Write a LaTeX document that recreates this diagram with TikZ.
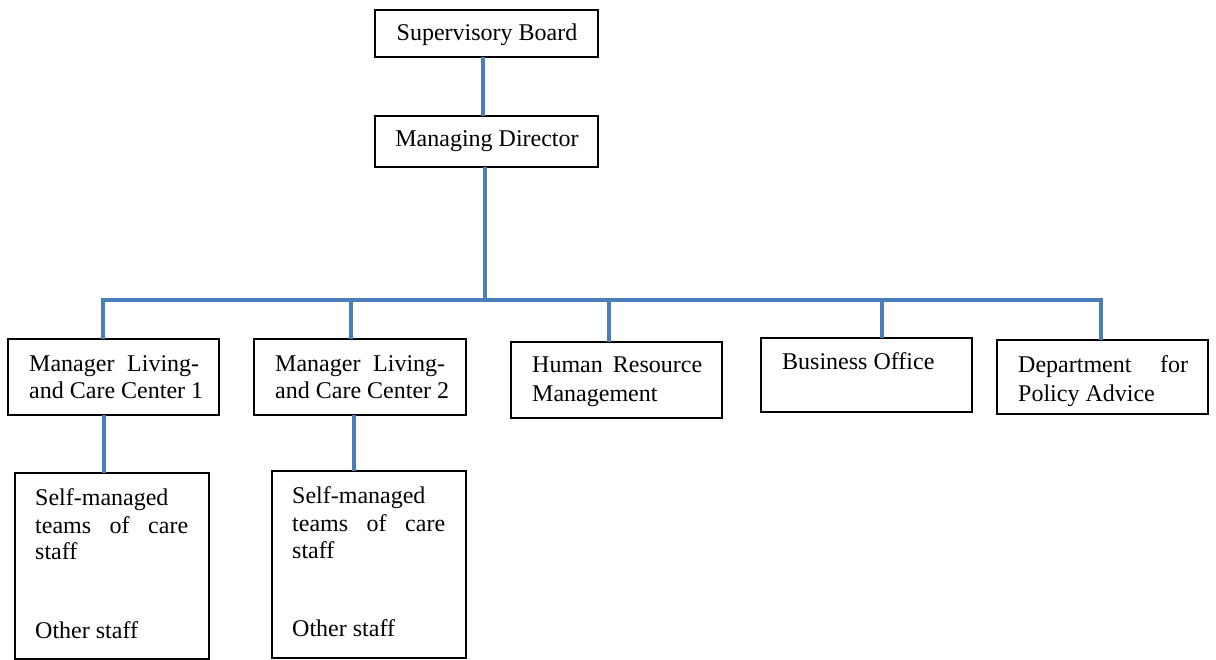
\documentclass[tikz,border=0pt]{standalone}
\usepackage{fontspec}
\setmainfont{Liberation Serif}
\definecolor{linkblue}{HTML}{4A7EBB}
\tikzset{
  box/.style={draw=black, line width=1.8pt, inner sep=0pt, outer sep=0pt, anchor=north west},
  conn/.style={draw=linkblue, line width=3.6pt},
  txt/.style={inner sep=0pt, anchor=base west, font=\fontsize{24}{27.6}\selectfont},
  ctxt/.style={inner sep=0pt, anchor=center, font=\fontsize{24}{27.6}\selectfont}
}
\begin{document}
\begin{tikzpicture}[x=1pt,y=-1pt]
\useasboundingbox (0,0) rectangle (1216,660);
% boxes
\node[box, minimum width=223pt, minimum height=47pt] (sb) at (375,10) {};
\node[box, minimum width=223pt, minimum height=51pt] (md) at (375,116) {};
\node[box, minimum width=211pt, minimum height=76pt] (m1) at (8,339) {};
\node[box, minimum width=212pt, minimum height=76pt] (m2) at (254,339) {};
\node[box, minimum width=211pt, minimum height=76pt] (hr) at (511,342) {};
\node[box, minimum width=211pt, minimum height=74pt] (bo) at (761,338) {};
\node[box, minimum width=211pt, minimum height=74pt] (dp) at (997,340) {};
\node[box, minimum width=194pt, minimum height=186pt] (s1) at (15,473) {};
\node[box, minimum width=194pt, minimum height=187pt] (s2) at (272,471) {};
% texts
\node[ctxt] (tsb) at (487,35) {Supervisory Board};
\node[ctxt] (tmd) at (487,141) {Managing Director};
\node[txt] (tm1a) at (29,372) {\makebox[170pt][s]{Manager Living-}};
\node[txt] (tm1b) at (29,399) {and Care Center 1};
\node[txt] (tm2a) at (275,372) {\makebox[170pt][s]{Manager Living-}};
\node[txt] (tm2b) at (275,399) {and Care Center 2};
\node[txt] (thra) at (532,373) {\makebox[170pt][s]{Human Resource}};
\node[txt] (thrb) at (532,401) {Management};
\node[txt] (tbo) at (782,370) {Business Office};
\node[txt] (tdpa) at (1018,373) {\makebox[170pt][s]{Department for}};
\node[txt] (tdpb) at (1018,401) {Policy Advice};
\node[txt] (ts1a) at (35,505) {Self-managed};
\node[txt] (ts1b) at (35,533) {\makebox[153pt][s]{teams of care}};
\node[txt] (ts1c) at (35,559) {staff};
\node[txt] (ts1d) at (35,638) {Other staff};
\node[txt] (ts2a) at (292,503) {Self-managed};
\node[txt] (ts2b) at (292,531) {\makebox[153pt][s]{teams of care}};
\node[txt] (ts2c) at (292,558) {staff};
\node[txt] (ts2d) at (292,636) {Other staff};
% connectors
\coordinate (v0) at (483,0);
\coordinate (v1) at (485,0);
\coordinate (b1) at (103,300);
\coordinate (b2) at (351,300);
\coordinate (b3) at (609,300);
\coordinate (b4) at (882,300);
\coordinate (b5) at (1101,300);
\coordinate (l1) at (104,0);
\coordinate (l2) at (354,0);
\draw[conn] (v0 |- sb.south) -- (v0 |- md.north);
\draw[conn] (v1 |- md.south) -- (v1 |- b1);
\draw[conn, line join=miter] (b1 |- m1.north) -- (b1) -- (b5) -- (b5 |- dp.north);
\draw[conn] (b2) -- (b2 |- m2.north);
\draw[conn] (b3) -- (b3 |- hr.north);
\draw[conn] (b4) -- (b4 |- bo.north);
\draw[conn] (l1 |- m1.south) -- (l1 |- s1.north);
\draw[conn] (l2 |- m2.south) -- (l2 |- s2.north);
\end{tikzpicture}
\end{document}
